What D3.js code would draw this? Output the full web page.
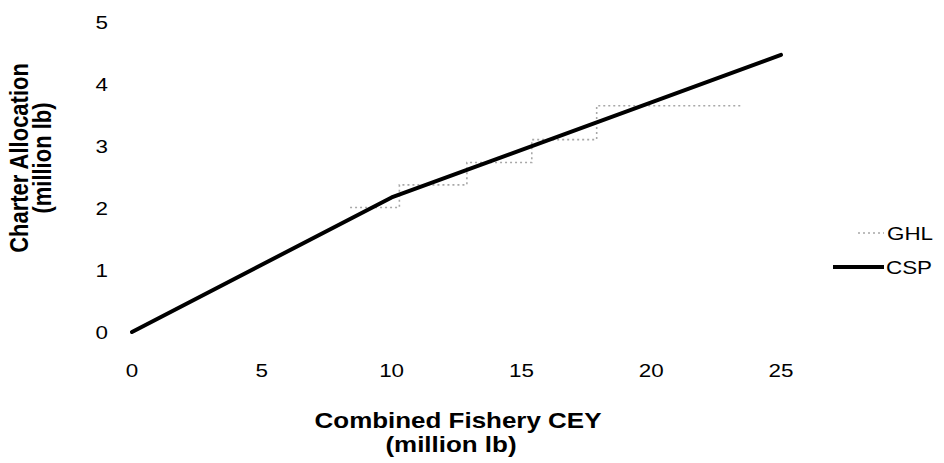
<!DOCTYPE html>
<html>
<head>
<meta charset="utf-8">
<script src="https://cdn.jsdelivr.net/npm/d3@7"></script>
<style>
  html, body { margin: 0; padding: 0; background: #fff; }
  svg { display: block; }
  text { font-family: "Liberation Sans", Arial, sans-serif; fill: #000; }
</style>
</head>
<body>
<svg id="chart" width="944" height="463"></svg>
<script>
// ---- data ----
const xTicks = [0, 5, 10, 15, 20, 25];
const yTicks = [0, 1, 2, 3, 4, 5];
// CSP (catch sharing plan) allocation, million lb, vs combined fishery CEY
const cspCEY = [0, 10, 25];
const cspAlloc = [0, 2.17, 4.47];
// GHL (guideline harvest level) step tiers
const ghlCEY = [8.4, 10.3, 12.9, 15.4, 17.9, 23.5];
const ghlAlloc = [2.008, 2.373, 2.734, 3.103, 3.65, 3.65];
const seriesNames = ["GHL", "CSP"];
const xTitle = ["Combined Fishery CEY", "(million lb)"];
const yTitle = ["Charter Allocation", "(million lb)"];

// ---- layout ----
const svg = d3.select("#chart");
const x = d3.scaleLinear().domain([0, 25]).range([132, 781]);
const y = d3.scaleLinear().domain([0, 5]).range([332, 22]);
const SX = 1.18; // horizontal stretch of the scanned text

function stretchedText(px, py, str, opts) {
  const g = svg.append("g")
    .attr("transform", `translate(${px},${py}) scale(${SX},1)` + (opts.rotate ? ` rotate(${opts.rotate})` : ""));
  g.append("text")
    .attr("text-anchor", opts.anchor || "start")
    .attr("font-size", opts.size)
    .attr("font-weight", opts.weight || "normal")
    .text(str);
}

// x tick labels
xTicks.forEach(t => stretchedText(x(t), 377, String(t), {anchor: "middle", size: 19}));
// y tick labels
yTicks.forEach(t => stretchedText(108, y(t) + 7, String(t), {anchor: "end", size: 19}));

// axis titles
stretchedText(458, 428, xTitle[0], {anchor: "middle", size: 22, weight: "bold"});
stretchedText(451, 452, xTitle[1], {anchor: "middle", size: 22, weight: "bold"});
stretchedText(28, 158, yTitle[0], {anchor: "middle", size: 22, weight: "bold", rotate: -90});
stretchedText(51, 158, yTitle[1], {anchor: "middle", size: 22, weight: "bold", rotate: -90});

// GHL step line
const ghlPts = ghlCEY.map((c, i) => [c, ghlAlloc[i]]);
const stepLine = d3.line().x(d => x(d[0])).y(d => y(d[1])).curve(d3.curveStepAfter);
svg.append("path")
  .attr("d", stepLine(ghlPts))
  .attr("fill", "none")
  .attr("stroke", "#a8a8a8")
  .attr("stroke-width", 1.6)
  .attr("stroke-dasharray", "2,3");

// CSP line
const cspPts = cspCEY.map((c, i) => [c, cspAlloc[i]]);
const line = d3.line().x(d => x(d[0])).y(d => y(d[1]));
svg.append("path")
  .attr("d", line(cspPts))
  .attr("fill", "none")
  .attr("stroke", "#000")
  .attr("stroke-width", 4)
  .attr("stroke-linecap", "round")
  .attr("stroke-linejoin", "round");

// legend
const legY = [233, 267];
svg.append("line").attr("x1", 858).attr("x2", 884).attr("y1", legY[0]).attr("y2", legY[0])
  .attr("stroke", "#a8a8a8").attr("stroke-width", 1.6).attr("stroke-dasharray", "2,3");
svg.append("line").attr("x1", 833).attr("x2", 884).attr("y1", legY[1]).attr("y2", legY[1])
  .attr("stroke", "#000").attr("stroke-width", 4);
stretchedText(887, legY[0] + 7, seriesNames[0], {size: 19});
stretchedText(886, legY[1] + 7, seriesNames[1], {size: 19});
</script>
</body>
</html>
